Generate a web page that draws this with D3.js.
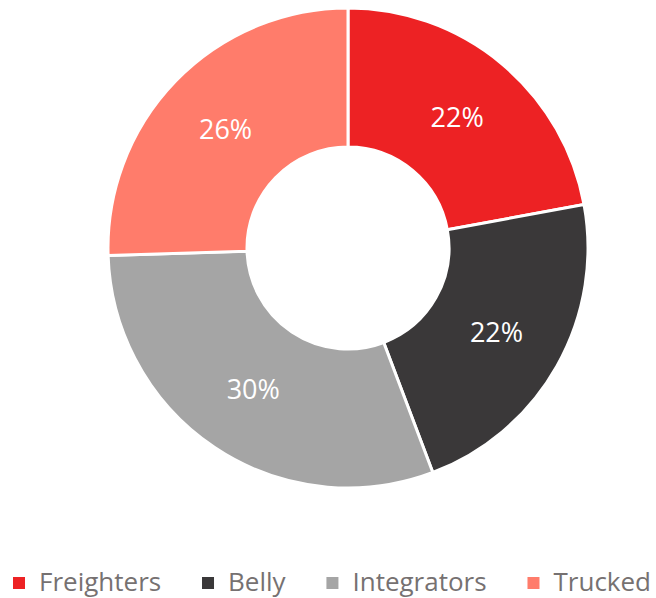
<!DOCTYPE html>
<html>
<head>
<meta charset="utf-8">
<script src="https://cdn.jsdelivr.net/npm/d3@7"></script>
<style>
  body { margin: 0; background: #fff; }
  svg { display: block; font-family: "Open Sans", sans-serif; }
</style>
</head>
<body>
<script>
//Width and height
var w = 656;
var h = 598;

// data
var categories = ["Freighters", "Belly", "Integrators", "Trucked"];
var shares = [22.1, 22.15, 30.25, 25.5];
var colors = ["#ED2224", "#3A3839", "#A5A5A5", "#FF7C6B"];

var cx = 348, cy = 248;
var outerR = 240, innerR = 101;

var svg = d3.select("body")
            .append("svg")
            .attr("width", w)
            .attr("height", h);

var dataset = categories.map(function(c, i) {
  return { name: c, value: shares[i], color: colors[i] };
});

var pie = d3.pie()
            .sort(null)
            .value(function(d) { return d.value; });

var arc = d3.arc()
            .innerRadius(innerR)
            .outerRadius(outerR);

var g = svg.append("g")
           .attr("transform", "translate(" + cx + "," + cy + ")");

var slices = g.selectAll("g.slice")
              .data(pie(dataset))
              .enter()
              .append("g")
              .attr("class", "slice");

slices.append("path")
      .attr("d", arc)
      .attr("fill", function(d) { return d.data.color; })
      .attr("stroke", "#fff")
      .attr("stroke-width", 3);

slices.append("text")
      .attr("transform", function(d) { return "translate(" + arc.centroid(d) + ")"; })
      .attr("text-anchor", "middle")
      .attr("dy", "0.36em")
      .attr("fill", "#fff")
      .attr("font-size", 27)
      .text(function(d) { return Math.round(d.data.value) + "%"; });

// legend: spread items between left and right edges
var legLeft = 13, legRight = 651;
var legend = svg.append("g")
                .attr("class", "legend")
                .attr("transform", "translate(" + legLeft + ",583)");
var items = [];
var used = 0;
categories.forEach(function(c, i) {
  var item = legend.append("g");
  item.append("rect")
      .attr("x", 0)
      .attr("y", -6)
      .attr("width", 12)
      .attr("height", 12)
      .attr("fill", colors[i]);
  var t = item.append("text")
      .attr("x", 26)
      .attr("y", 8)
      .attr("fill", "#767171")
      .attr("font-size", 26)
      .text(c);
  var wd = 26 + t.node().getComputedTextLength();
  items.push({ node: item, width: wd });
  used += wd;
});
var gap = (legRight - legLeft - used) / (categories.length - 1);
var x = 0;
items.forEach(function(it) {
  it.node.attr("transform", "translate(" + x + ",0)");
  x += it.width + gap;
});
</script>
</body>
</html>
